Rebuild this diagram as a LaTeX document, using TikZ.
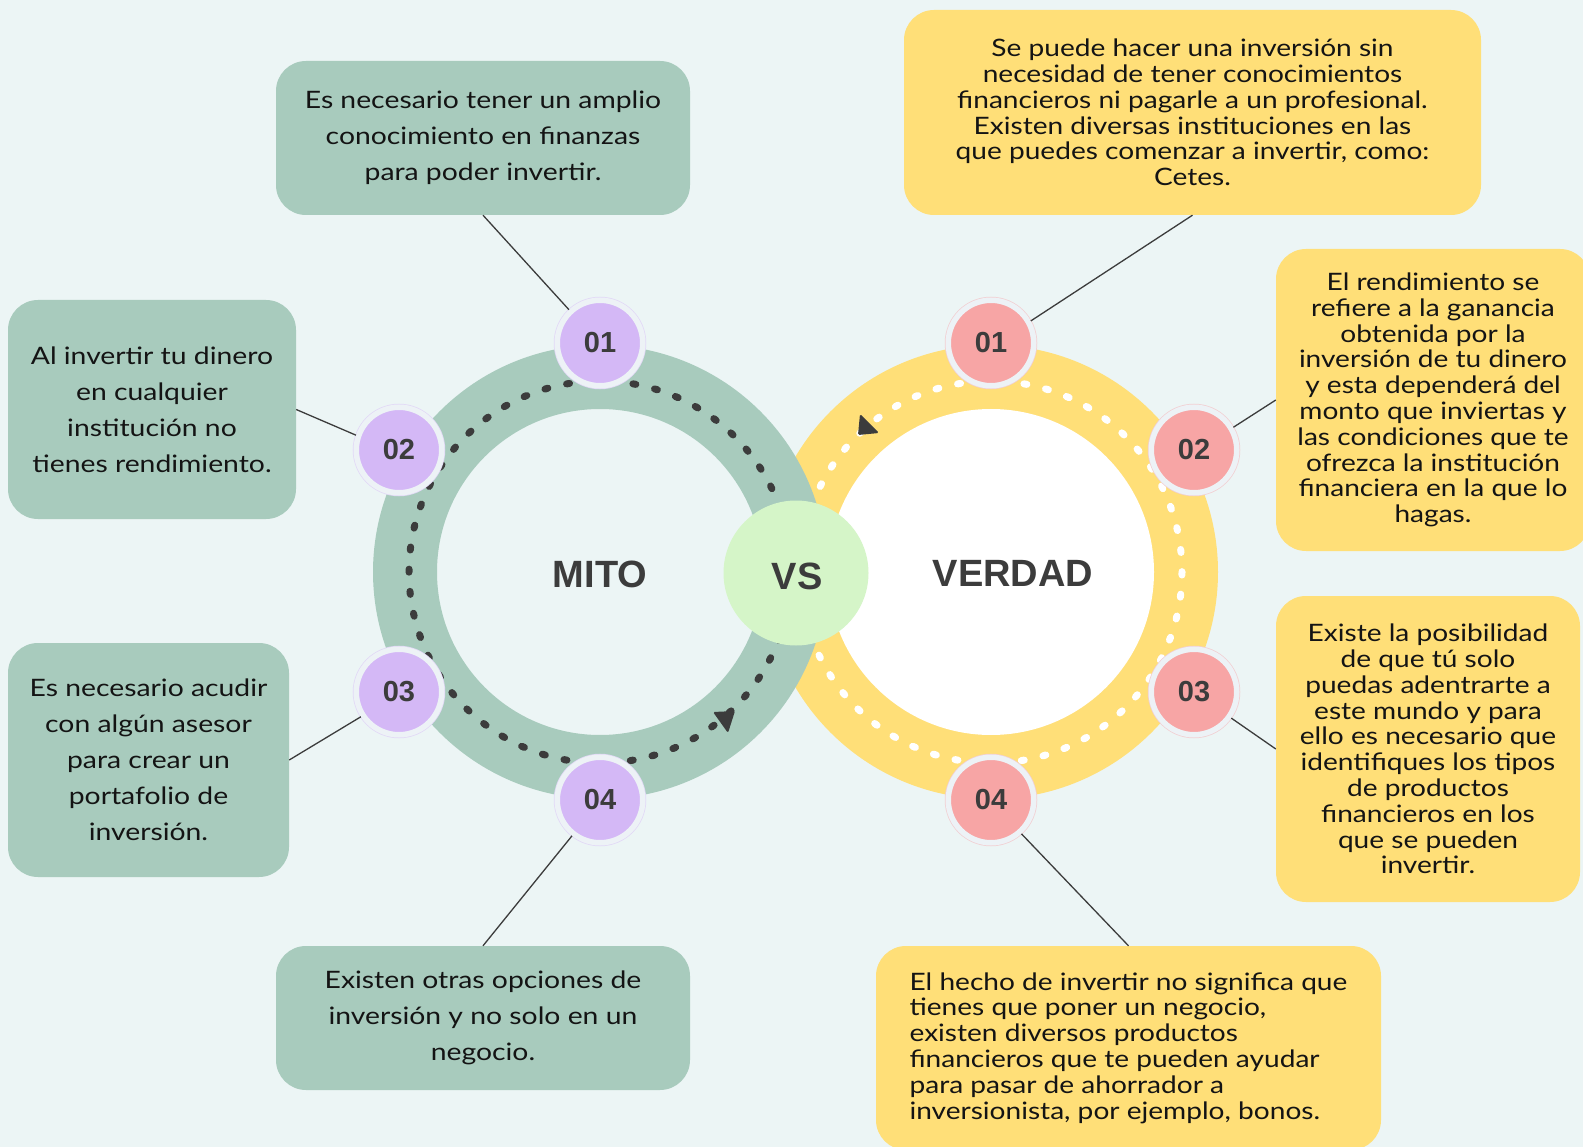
\documentclass[tikz,border=0pt]{standalone}
\usepackage{fontspec}
\setmainfont[FakeStretch=1.18]{Lato}
\newfontfamily\yfont[FakeStretch=1.17]{Lato}
\newfontfamily\hfont{Liberation Sans}
\definecolor{bg}{HTML}{ECF5F5}
\definecolor{ringg}{HTML}{A8CBBD}
\definecolor{ringy}{HTML}{FFDF78}
\definecolor{purp}{HTML}{D4B8F6}
\definecolor{pinkc}{HTML}{F7A5A5}
\definecolor{vsc}{HTML}{D5F5C8}
\definecolor{ink}{HTML}{3C3C3C}
\definecolor{txt}{HTML}{141414}
\definecolor{halo}{HTML}{EDF2F6}
\tikzset{
  gbox/.style={rectangle, rounded corners=30pt, fill=ringg, text=txt, align=center,
    font=\fontsize{24}{36}\selectfont, inner sep=0pt},
  ybox/.style={rectangle, rounded corners=30pt, fill=ringy, text=txt, align=center,
    font=\yfont\fontsize{24}{25.8}\selectfont, inner sep=0pt},
  numc/.style={circle, minimum size=85.5pt, inner sep=0pt, fill=#1, draw=halo,
    line width=5.5pt, preaction={draw=#1!45!halo, line width=7pt},
    text=ink, font=\hfont\bfseries\fontsize{29}{29}\selectfont},
  title/.style={text=ink, font=\hfont\bfseries\fontsize{38}{38}\selectfont, inner sep=0pt},
  link/.style={draw=ink, line width=1.3pt},
  dots/.style={line width=7pt, line cap=round, dash pattern=on 3pt off 19.22pt},
}
\begin{document}
\begin{tikzpicture}[x=1pt,y=-1pt]
\useasboundingbox (0,0) rectangle (1583,1147);
\fill[bg] (0,0) rectangle (1583,1147);
% right (yellow) ring
\fill[ringy] (991,572) circle (227);
\fill[white] (991,572) circle (163);
\draw[dots, white] (991,572) circle (191);
% left (green) ring
\fill[ringg, even odd rule] (600,572) circle (227) (600,572) circle (163);
\draw[dots, ink] (600,572) circle (191);
% arrow heads
\fill[ink, rounded corners=1.5pt] (713,712) -- (735,711) -- (728,733) -- cycle;
\fill[ink, rounded corners=1.5pt] (860,414) -- (858,435) -- (879,433) -- cycle;
% VS
\node[circle, fill=vsc, minimum size=145pt, inner sep=0pt] (vs) at (796,573) {};
\node[title] (vst) at (797,576) {VS};
\node[title] (mito) at (600,574) {MITO};
\node[title] (verdad) at (1013,573) {VERDAD};
% number circles
\node[numc=purp] (lc1) at (600,343) {01};
\node[numc=purp] (lc2) at (399,450) {02};
\node[numc=purp] (lc3) at (399,692) {03};
\node[numc=purp] (lc4) at (600,800) {04};
\node[numc=pinkc] (rc1) at (991,343) {01};
\node[numc=pinkc] (rc2) at (1194,450) {02};
\node[numc=pinkc] (rc3) at (1194,692) {03};
\node[numc=pinkc] (rc4) at (991,800) {04};
% text boxes
\node[gbox, minimum width=414pt, minimum height=154pt] (m1) at (483,138)
  {Es necesario tener un amplio\\conocimiento en finanzas\\para poder invertir.};
\node[gbox, minimum width=288pt, minimum height=219pt] (m2) at (152,409.5)
  {Al invertir tu dinero\\en cualquier\\institución no\\tienes rendimiento.};
\node[gbox, minimum width=281pt, minimum height=234pt] (m3) at (148.5,760)
  {Es necesario acudir\\con algún asesor\\para crear un\\portafolio de\\inversión.};
\node[gbox, minimum width=414pt, minimum height=144pt] (m4) at (483,1018)
  {Existen otras opciones de\\inversión y no solo en un\\negocio.};
\node[ybox, minimum width=577pt, minimum height=205pt] (v1) at (1192.5,112.5)
  {Se puede hacer una inversión sin\\necesidad de tener conocimientos\\financieros ni pagarle a un profesional.\\Existen diversas instituciones en las\\que puedes comenzar a invertir, como:\\Cetes.};
\node[ybox, minimum width=314pt, minimum height=302pt] (v2) at (1433,400)
  {El rendimiento se\\refiere a la ganancia\\obtenida por la\\inversión de tu dinero\\y esta dependerá del\\monto que inviertas y\\las condiciones que te\\ofrezca la institución\\financiera en la que lo\\hagas.};
\node[ybox, minimum width=304pt, minimum height=306pt] (v3) at (1428,749)
  {Existe la posibilidad\\de que tú solo\\puedas adentrarte a\\este mundo y para\\ello es necesario que\\identifiques los tipos\\de productos\\financieros en los\\que se pueden\\invertir.};
\node[ybox, align=left, minimum width=505pt, minimum height=204pt] (v4) at (1128.5,1048)
  {El hecho de invertir no significa que\\tienes que poner un negocio,\\existen diversos productos\\financieros que te pueden ayudar\\para pasar de ahorrador a\\inversionista, por ejemplo, bonos.};
% connectors
\draw[link] (m1.south) -- (lc1.133);
\draw[link] (m2.east) -- (lc2.161);
\draw[link] (m3.east) -- (lc3.213);
\draw[link] (m4.north) -- (lc4.232);
\draw[link] (v1.south) -- (rc1.29);
\draw[link] (v2.west) -- (rc2.30);
\draw[link] (v3.west) -- (rc3.-35);
\draw[link] (v4.north) -- (rc4.-48);
\end{tikzpicture}
\end{document}
